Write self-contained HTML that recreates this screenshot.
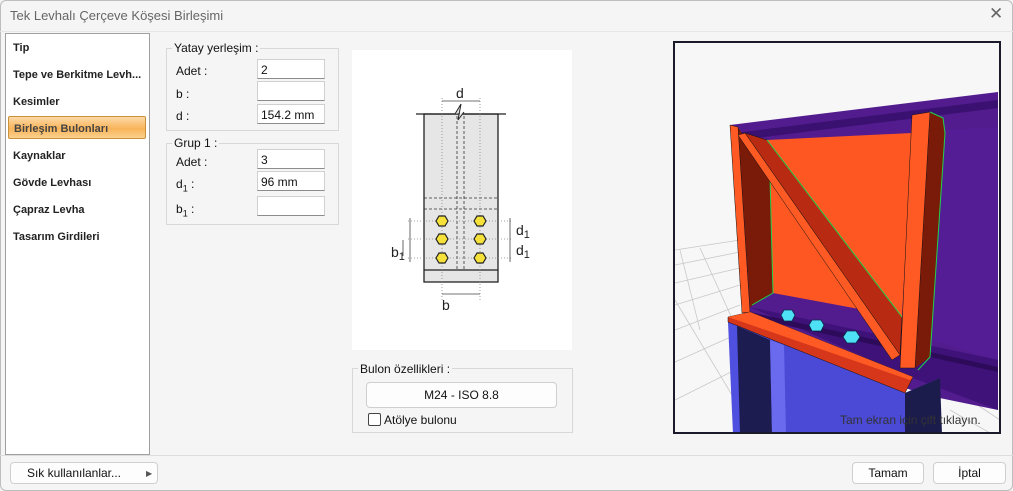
<!DOCTYPE html>
<html><head><meta charset="utf-8"><style>
*{box-sizing:border-box;margin:0;padding:0}
body{width:1013px;height:491px;overflow:hidden;background:#f3f3f3;font-family:"Liberation Sans",sans-serif;font-size:12px;color:#111;position:relative}
.a{position:absolute}
.win{left:0;top:0;width:1013px;height:491px;border:1px solid #bdbdbd;border-radius:6px;background:#f5f5f5}
.title{left:10px;top:8px;font-size:13px;color:#666}
.close{left:989px;top:4px;font-size:17px;color:#666}
.list{left:5px;top:33px;width:145px;height:422px;background:#fff;border:1px solid #a0a0a0}
.item{left:13px;font-size:11px;font-weight:bold;color:#222}
.sel{left:8px;top:116px;width:138px;height:23px;border:1px solid #c9913a;border-radius:2px;background:linear-gradient(#fdd9a8,#f9b45a 55%,#fbd18c);}
.grp{border:1px solid #d8d8d8}
.gl{background:#f5f5f5;padding:0 2px;font-size:12px;color:#111}
.inp{width:68px;height:20px;background:#fff;border:1px solid #d0d0d0;border-bottom:1px solid #8c8c8c;font-size:12px;padding:3px 3px}
.lbl{font-size:12px}
.btn{background:#fdfdfd;border:1px solid #cfcfcf;border-radius:4px;font-size:12px;text-align:center}
</style></head><body>
<div class="a win"></div>
<div class="a title">Tek Levhalı Çerçeve Köşesi Birleşimi</div>
<div class="a close">✕</div>
<div class="a" style="left:0;top:31px;width:1013px;height:1px;background:#e6e6e6"></div>
<div class="a list"></div>
<div class="a sel"></div>
<div class="a item" style="top:42px">Tip</div>
<div class="a item" style="top:69px">Tepe ve Berkitme Levh...</div>
<div class="a item" style="top:96px">Kesimler</div>
<div class="a item" style="top:123px;left:14px;color:#444">Birleşim Bulonları</div>
<div class="a item" style="top:150px">Kaynaklar</div>
<div class="a item" style="top:177px">Gövde Levhası</div>
<div class="a item" style="top:204px">Çapraz Levha</div>
<div class="a item" style="top:231px">Tasarım Girdileri</div>

<div class="a grp" style="left:166px;top:48px;width:173px;height:83px"></div>
<div class="a gl" style="left:172px;top:41px">Yatay yerleşim :</div>
<div class="a lbl" style="left:176px;top:64px">Adet :</div>
<div class="a lbl" style="left:176px;top:87px">b :</div>
<div class="a lbl" style="left:176px;top:109px">d :</div>
<div class="a inp" style="left:257px;top:59px">2</div>
<div class="a inp" style="left:257px;top:81px"></div>
<div class="a inp" style="left:257px;top:104px">154.2 mm</div>

<div class="a grp" style="left:166px;top:143px;width:173px;height:82px"></div>
<div class="a gl" style="left:172px;top:136px">Grup 1 :</div>
<div class="a lbl" style="left:176px;top:155px">Adet :</div>
<div class="a lbl" style="left:176px;top:177px">d<sub style="font-size:9px">1</sub> :</div>
<div class="a lbl" style="left:176px;top:202px">b<sub style="font-size:9px">1</sub> :</div>
<div class="a inp" style="left:257px;top:149px">3</div>
<div class="a inp" style="left:257px;top:171px">96 mm</div>
<div class="a inp" style="left:257px;top:196px"></div>

<svg class="a" style="left:352px;top:50px" width="220" height="300" viewBox="352 50 220 300">
<rect x="352" y="50" width="220" height="300" fill="#fff"/>
<rect x="424" y="114" width="74" height="168" fill="#e6e6e6" stroke="#222" stroke-width="1.3"/>
<line x1="424" y1="270" x2="498" y2="270" stroke="#222" stroke-width="1.3"/>
<line x1="416" y1="114" x2="506" y2="114" stroke="#222" stroke-width="1.3"/>
<path d="M455 114 L461 104 L458 120 L464 112" fill="#e6e6e6" stroke="#222" stroke-width="1"/>
<g stroke="#333" stroke-dasharray="3,2" fill="none" stroke-width="0.8">
<line x1="457" y1="116" x2="457" y2="270"/><line x1="464" y1="116" x2="464" y2="270"/>
<line x1="424" y1="198" x2="498" y2="198"/><line x1="424" y1="209" x2="498" y2="209"/>
</g>
<g stroke="#888" stroke-dasharray="1,2" stroke-width="0.8">
<line x1="442" y1="98" x2="442" y2="300"/><line x1="480" y1="98" x2="480" y2="300"/>
<line x1="408" y1="221" x2="512" y2="221"/><line x1="408" y1="239" x2="512" y2="239"/><line x1="408" y1="258" x2="512" y2="258"/>
</g>
<g stroke="#444" stroke-width="0.8" fill="none">
<line x1="442" y1="101" x2="480" y2="101"/>
<line x1="442" y1="294" x2="480" y2="294"/>
<line x1="510" y1="218" x2="510" y2="262"/>
<line x1="410" y1="218" x2="410" y2="262"/>
<line x1="403" y1="240" x2="403" y2="256"/>
</g>
<g fill="#f5e13a" stroke="#222" stroke-width="1.2">
<polygon points="436,221 439,216 445,216 448,221 445,226 439,226"/>
<polygon points="474,221 477,216 483,216 486,221 483,226 477,226"/>
<polygon points="436,239 439,234 445,234 448,239 445,244 439,244"/>
<polygon points="474,239 477,234 483,234 486,239 483,244 477,244"/>
<polygon points="436,258 439,253 445,253 448,258 445,263 439,263"/>
<polygon points="474,258 477,253 483,253 486,258 483,263 477,263"/>
</g>
<g font-family="Liberation Sans" font-size="14" fill="#222">
<text x="456" y="98">d</text>
<text x="516" y="235">d<tspan font-size="11" dy="3">1</tspan></text>
<text x="516" y="255">d<tspan font-size="11" dy="3">1</tspan></text>
<text x="391" y="257">b<tspan font-size="11" dy="3">1</tspan></text>
<text x="442" y="310">b</text>
</g>
</svg>

<div class="a grp" style="left:352px;top:368px;width:221px;height:65px"></div>
<div class="a gl" style="left:358px;top:362px">Bulon özellikleri :</div>
<div class="a btn" style="left:366px;top:382px;width:191px;height:26px;line-height:24px">M24 - ISO 8.8</div>
<div class="a" style="left:368px;top:413px;width:13px;height:13px;border:1px solid #444;border-radius:2px;background:#fff"></div>
<div class="a lbl" style="left:384px;top:413px">Atölye bulonu</div>

<svg class="a" style="left:673px;top:41px" width="328" height="393" viewBox="673 41 328 393">
<rect x="673" y="41" width="328" height="393" fill="#f7f7f7"/>
<g stroke="#c8c8c8" stroke-width="0.8">
<line x1="675" y1="250" x2="740" y2="240"/><line x1="675" y1="265" x2="740" y2="252"/><line x1="675" y1="283" x2="740" y2="268"/>
<line x1="675" y1="305" x2="740" y2="285"/><line x1="675" y1="330" x2="740" y2="305"/><line x1="675" y1="362" x2="735" y2="335"/>
<line x1="675" y1="400" x2="735" y2="370"/><line x1="680" y1="250" x2="700" y2="330"/><line x1="700" y1="248" x2="735" y2="325"/>
<line x1="675" y1="300" x2="735" y2="400"/><line x1="940" y1="380" x2="1000" y2="420"/><line x1="950" y1="410" x2="990" y2="433"/>
</g>
<polygon points="730,125 998,92 998,410 925,395 745,330" fill="#521c8e"/>
<polygon points="735,133 998,100 998,108 740,140" fill="#3a1070"/>
<polygon points="945,130 998,127 998,360 930,340" fill="#541d95"/>
<polygon points="750,307 998,360 998,410 910,377" fill="#3f127a"/>
<polygon points="750,312 998,367 998,372 752,318" fill="#2d0b5a"/>
<polygon points="767,140 912,133 902,317 773,293" fill="#ff5722"/>
<polygon points="738,127 770,177 773,293 750,307" fill="#7a1a08"/>
<polygon points="730,125 738,127 750,312 742,313" fill="#ff5a24" stroke="#111" stroke-width="0.5"/>
<polyline points="770,177 773,293 752,305" fill="none" stroke="#1fd24a" stroke-width="1"/>
<polygon points="745,133 767,140 902,317 900,355" fill="#b82a12" stroke="#111" stroke-width="0.5"/>
<polygon points="738,135 745,133 900,355 892,360" fill="#ff5a24" stroke="#111" stroke-width="0.5"/>
<line x1="767" y1="140" x2="902" y2="317" stroke="#1fd24a" stroke-width="1"/>
<polygon points="930,112 943,118 945,133 930,357 915,368" fill="#7a1a08"/>
<polygon points="912,115 930,112 915,368 900,368" fill="#ff5a24" stroke="#111" stroke-width="0.5"/>
<polyline points="930,112 943,118 945,133 930,357 918,370" fill="none" stroke="#1fd24a" stroke-width="1"/>
<g fill="#4ee0f5" stroke="#0a2a4a" stroke-width="0.8">
<polygon points="781,315 784,310 792,310 795,315 792,321 784,321"/>
<polygon points="809,325 812,320 821,320 824,325 821,331 812,331"/>
<polygon points="843,337 847,331 856,331 860,337 856,343 847,343"/>
</g>
<polygon points="738,322 905,393 940,378 940,434 738,434" fill="#4a4ad6"/>
<polygon points="728,322 738,322 742,434 733,434" fill="#5050e0"/>
<polygon points="737,326 770,340 772,434 740,434" fill="#1c1c50"/>
<polygon points="770,340 784,345 786,434 772,434" fill="#6a6aee"/>
<polygon points="905,393 940,378 942,434 905,434" fill="#1c1c4c"/>
<polygon points="728,317 750,312 913,377 905,393 728,322" fill="#d6361a" stroke="#111" stroke-width="0.5"/>
<polygon points="728,317 750,312 913,377 910,380" fill="#ff5a24"/>
<text x="840" y="424" font-family="Liberation Sans" font-size="12" fill="#333">Tam ekran için çift tıklayın.</text>
<rect x="674" y="42" width="326" height="391" fill="none" stroke="#1a1a2a" stroke-width="2"/>
</svg>

<div class="a" style="left:0;top:455px;width:1013px;height:1px;background:#ddd"></div>
<div class="a btn" style="left:10px;top:462px;width:148px;height:22px;line-height:21px;padding-right:20px">Sık kullanılanlar...</div>
<div class="a" style="left:146px;top:469px;font-size:8px;color:#555">▶</div>
<div class="a btn" style="left:852px;top:462px;width:72px;height:22px;line-height:21px">Tamam</div>
<div class="a btn" style="left:933px;top:462px;width:73px;height:22px;line-height:21px">İptal</div>
</body></html>
